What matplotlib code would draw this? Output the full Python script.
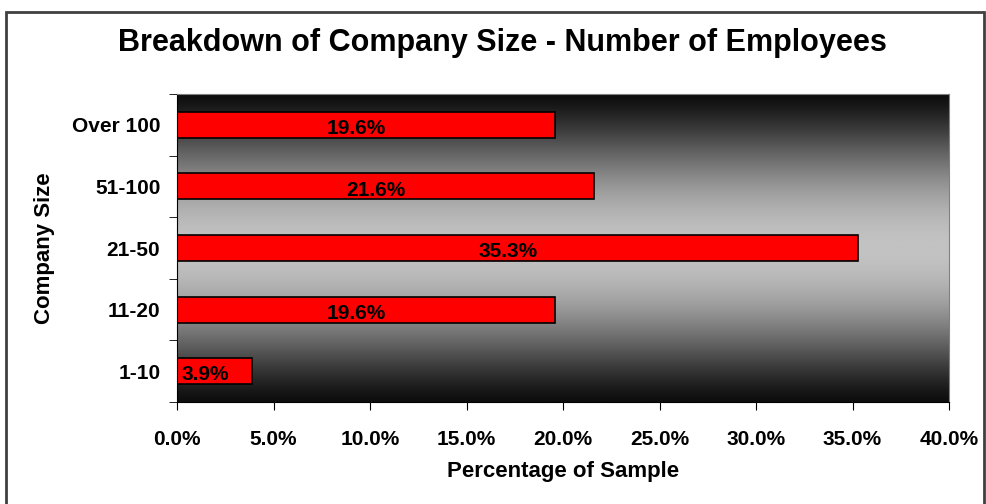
import numpy as np
import matplotlib
matplotlib.use("Agg")
import matplotlib.pyplot as plt
from matplotlib.colors import LinearSegmentedColormap
from matplotlib.patches import Rectangle

# data (bottom to top)
sizes = ["1-10", "11-20", "21-50", "51-100", "Over 100"]
percent = [3.9, 19.6, 35.3, 21.6, 19.6]
xticks = [0, 5, 10, 15, 20, 25, 30, 35, 40]

plt.rcParams['font.family'] = ['Liberation Sans', 'DejaVu Sans']
plt.rcParams['font.weight'] = 'bold'

fig = plt.figure(figsize=(9.86, 5.04), dpi=100)
ax = fig.add_axes([177/986, 1-402/504, (949-177)/986, (402-94)/504])

# background gradient: dark at top and bottom, light in the middle
t = np.linspace(0, 1, 256)
grad = np.sin(np.pi * t) ** 1.3
cmap = LinearSegmentedColormap.from_list("bg", ["#0e0e0e", "#c2c2c2"])
ax.imshow(grad.reshape(-1, 1), aspect='auto', cmap=cmap,
          extent=[0, 40, -0.5, len(sizes) - 0.5], zorder=0)

y = np.arange(len(sizes))
ax.barh(y, percent, height=0.42, color="#ff0000", edgecolor="black", linewidth=1.2, zorder=2)
for yi, v in zip(y, percent):
    ax.text(v/2 - 0.5, yi - 0.06, f"{v:.1f}%", ha="center", va="center",
            fontsize=15, fontweight="bold", color="black", zorder=3)

ax.set_xlim(0, 40)
ax.set_ylim(-0.5, len(sizes) - 0.5)
ax.set_xticks(xticks)
ax.set_xticklabels([f"{v:.1f}%" for v in xticks], fontsize=15, fontweight="bold")
ax.set_yticks(y)
ax.set_yticklabels(sizes, fontsize=15, fontweight="bold")
ax.set_yticks(np.arange(-0.5, len(sizes)), minor=True)
ax.tick_params(axis='y', which='major', length=0, pad=12)
ax.tick_params(axis='y', which='minor', length=6, direction='out', color='black')
ax.tick_params(axis='x', which='major', length=6, direction='out', pad=14)

ax.set_xlabel("Percentage of Sample", fontsize=16, fontweight="bold", labelpad=9)
ax.set_ylabel("Company Size", fontsize=16, fontweight="bold", labelpad=12)

for side in ["top", "right"]:
    ax.spines[side].set_color("#808080")
for side in ["left", "bottom"]:
    ax.spines[side].set_color("black")

fig.text(0.51, 1 - 43/504, "Breakdown of Company Size - Number of Employees",
         ha="center", va="center", fontsize=22, fontweight="bold")

# outer chart border
fig.patches.append(Rectangle((6/986, -0.02), (984-6)/986, (498-6)/504 + 0.02,
                             transform=fig.transFigure, fill=False,
                             edgecolor="#404040", linewidth=2))

fig.savefig("out.png", dpi=100)
